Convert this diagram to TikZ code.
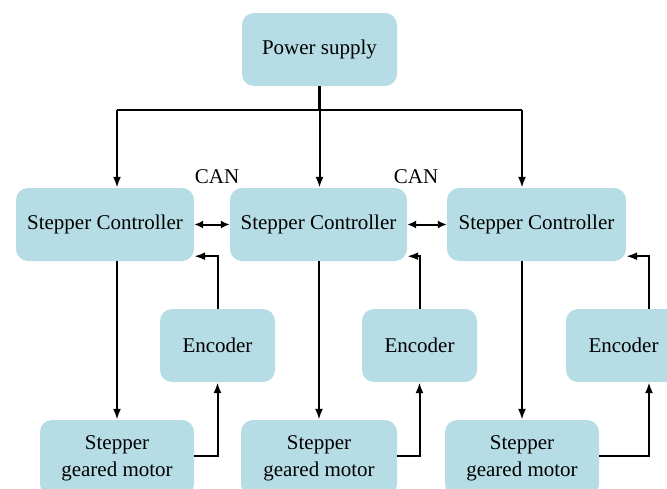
\documentclass[tikz,border=0pt]{standalone}
\usepackage{fontspec}
\setmainfont{Liberation Serif}
\usetikzlibrary{arrows.meta}

\definecolor{boxblue}{RGB}{182,221,229}
\tikzset{
    block/.style={fill=boxblue, rounded corners=12pt, inner sep=0pt, align=center,
        font=\fontsize{21}{27}\selectfont},
    link/.style={line width=2pt, -{Latex[length=11pt,width=8pt]}},
    canlink/.style={line width=2pt, {Latex[length=9pt,width=8pt]}-{Latex[length=9pt,width=8pt]}},
}

\begin{document}
\begin{tikzpicture}[x=1pt,y=-1pt]
    \useasboundingbox (0,0) rectangle (667,488);
    \clip (0,0) rectangle (667,488);

    % Supply and the three drive channels.
    \node[block, minimum width=155pt, minimum height=73pt] (ps) at (319.5,49.5) {Power supply};

    \node[block, minimum width=178pt, minimum height=73pt] (c1) at (105,224.5) {Stepper Controller};
    \node[block, minimum width=177pt, minimum height=73pt] (c2) at (318.5,224.5) {Stepper Controller};
    \node[block, minimum width=179pt, minimum height=73pt] (c3) at (536.5,224.5) {Stepper Controller};

    \node[block, minimum width=115pt, minimum height=73pt] (e1) at (217.5,345.5) {Encoder};
    \node[block, minimum width=115pt, minimum height=73pt] (e2) at (419.5,345.5) {Encoder};
    \node[block, minimum width=115pt, minimum height=73pt] (e3) at (623.5,345.5) {Encoder};

    \node[block, minimum width=154pt, minimum height=76pt] (m1) at (117,458) {Stepper\\geared motor};
    \node[block, minimum width=156pt, minimum height=76pt] (m2) at (319,458) {Stepper\\geared motor};
    \node[block, minimum width=154pt, minimum height=76pt] (m3) at (522,458) {Stepper\\geared motor};

    \node[font=\fontsize{21}{24}\selectfont] (can1) at (217,177) {CAN};
    \node[font=\fontsize{21}{24}\selectfont] (can2) at (416,177) {CAN};

    % Power bus.
    \coordinate (bus) at (319.5,110);
    \draw[line width=3pt] (ps.south) -- (bus);
    \draw[line width=2pt] (bus -| m1) -- (bus -| m3);
    \draw[link] (bus -| m1) -- (m1 |- c1.north);
    \draw[link] (bus) -- (bus |- c2.north);
    \draw[link] (bus -| m3) -- (m3 |- c3.north);

    % CAN links.
    \draw[canlink] (c1.east) -- (c2.west);
    \draw[canlink] (c2.east) -- (c3.west);

    % Drive and feedback loops.
    \foreach \i in {1,2,3}
        \draw[link] (m\i |- c\i.south) -- (m\i.north);
    \foreach \i in {1,2} {
        \draw[link] ([yshift=2pt]m\i.east) -| (e\i.south);
        \draw[link] (e\i.north) |- ([yshift=5pt]c\i.south east);
    }
    % last encoder is cut off, its lines sit right of centre
    \coordinate (e3r) at ([xshift=25.5pt]e3.center);
    \draw[link] ([yshift=2pt]m3.east) -| (e3r |- e3.south);
    \draw[link] (e3r |- e3.north) |- ([yshift=5pt]c3.south east);
\end{tikzpicture}
\end{document}
